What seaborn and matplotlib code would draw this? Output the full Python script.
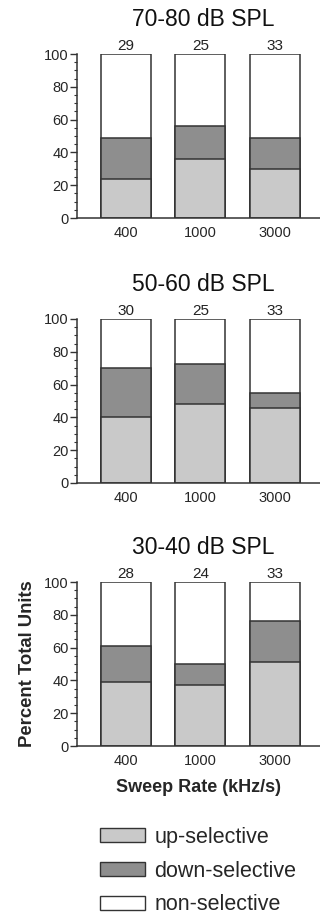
import numpy as np
import pandas as pd
import matplotlib
matplotlib.use("Agg")
import matplotlib.pyplot as plt
from matplotlib.patches import Patch
from matplotlib.ticker import MultipleLocator
import seaborn as sns

rates = ["400", "1000", "3000"]
levels = ["70-80 dB SPL", "50-60 dB SPL", "30-40 dB SPL"]
up_sel = [[24, 36, 30], [40, 48, 45.5], [39, 37, 51.5]]
down_sel = [[24.5, 20, 18.5], [30, 24.5, 9.5], [22, 13, 24.5]]
counts = [[29, 25, 33], [30, 25, 33], [28, 24, 33]]

light = "#c9c9c9"
dark = "#8e8e8e"
edge = "#333333"

sns.set_style("ticks")
plt.rcParams["font.family"] = ["Liberation Sans", "DejaVu Sans"]

fig = plt.figure(figsize=(3.2, 9.17), dpi=100)
W, H = 320, 917
tops = [54, 319, 582]
ax_h = 164

for k in range(3):
    ax = fig.add_axes([77 / W, 1 - (tops[k] + ax_h) / H, (W - 77) / W, ax_h / H])
    df = pd.DataFrame({"rate": rates,
                       "up": up_sel[k],
                       "updown": np.array(up_sel[k]) + np.array(down_sel[k]),
                       "total": [100, 100, 100]})
    kw = dict(x="rate", width=0.67, edgecolor=edge, linewidth=1.1, ax=ax)
    sns.barplot(data=df, y="total", color="white", **kw)
    sns.barplot(data=df, y="updown", color=dark, **kw)
    sns.barplot(data=df, y="up", color=light, **kw)
    for p in ax.patches:
        p.set_facecolor(p.get_facecolor()[:3] + (1,))
    ax.bar_label(ax.containers[0], labels=[str(c) for c in counts[k]],
                 padding=0.5, fontsize=11, color="#222222")
    ax.set_ylim(0, 100)
    ax.set_xlim(-0.66, 2.61)
    ax.yaxis.set_major_locator(MultipleLocator(20))
    ax.yaxis.set_minor_locator(MultipleLocator(5))
    ax.tick_params(axis="y", which="major", length=5, width=1, color=edge,
                   labelsize=10.5, pad=1)
    ax.tick_params(axis="y", which="minor", length=2.5, width=0.8, color=edge)
    ax.tick_params(axis="x", length=0, labelsize=10.5, pad=6)
    sns.despine(ax=ax)
    for s in ["left", "bottom"]:
        ax.spines[s].set_color(edge)
        ax.spines[s].set_linewidth(1.1)
    ax.set_title(levels[k], fontsize=16.5, pad=20, color="#111111", x=0.52)
    ax.set_xlabel("")
    ax.set_ylabel("")
    if k == 2:
        ax.set_xlabel("Sweep Rate (kHz/s)", fontsize=13, fontweight="bold",
                      labelpad=8)
        ax.set_ylabel("Percent Total Units", fontsize=13.3, fontweight="bold",
                      labelpad=6)

handles = [Patch(facecolor=light, edgecolor=edge, label="up-selective"),
           Patch(facecolor=dark, edgecolor=edge, label="down-selective"),
           Patch(facecolor="white", edgecolor=edge, label="non-selective")]
fig.legend(handles=handles, loc="upper left", bbox_to_anchor=(91 / W, 1 - 818 / H),
           frameon=False, fontsize=15.5, handlelength=2.1, handleheight=0.6,
           handletextpad=0.45, labelspacing=0.6, borderaxespad=0)

fig.savefig("out.png", dpi=100)
